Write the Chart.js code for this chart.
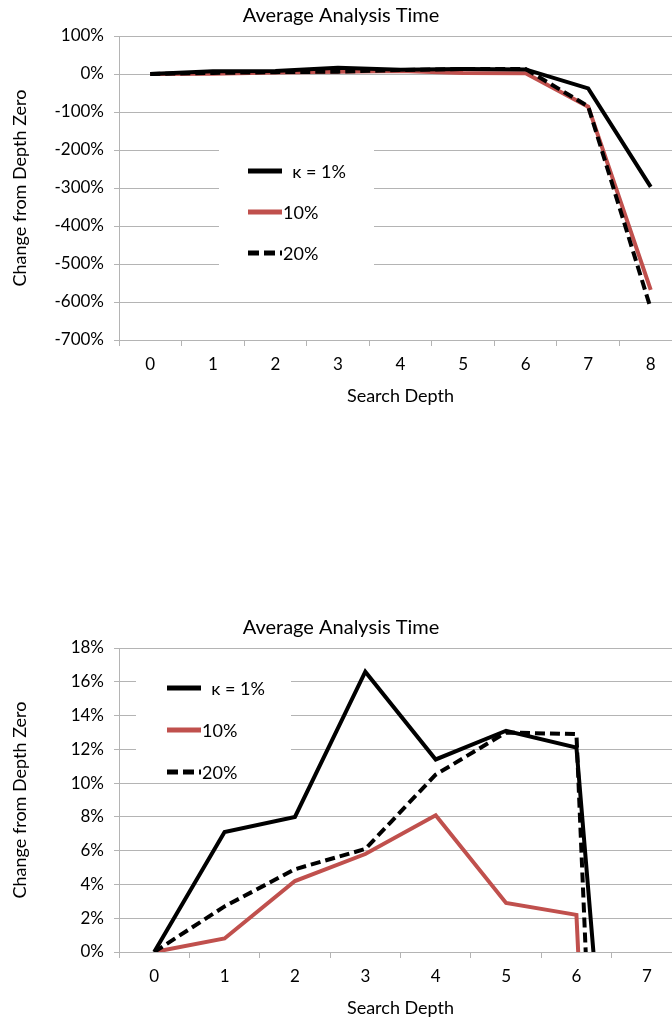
<!DOCTYPE html>
<html lang="en">
<head>
<meta charset="UTF-8" />
<script src="https://cdn.jsdelivr.net/npm/chart.js@4.4.1/dist/chart.umd.min.js"></script>
<style>
  html, body { margin: 0; padding: 0; background: #fff; overflow: hidden; width: 672px; height: 1021px; }
  canvas { position: absolute; left: 0; }
  #top { top: 0; }
  #bottom { top: 612px; }
</style>
</head>
<body>
<canvas id="top" width="682" height="410"></canvas>
<canvas id="bottom" width="682" height="410"></canvas>
<script>
// search depth categories
const depthsTop = ['0', '1', '2', '3', '4', '5', '6', '7', '8']
const depthsBottom = ['0', '1', '2', '3', '4', '5', '6', '7']
// change from depth zero, in %
const kappa1 = [0, 7.1, 8.0, 16.6, 11.4, 13.1, 12.1, -38, -297]
const kappa10 = [0, 0.8, 4.2, 5.8, 8.1, 2.9, 2.2, -86, -568]
const kappa20 = [0, 2.7, 4.9, 6.1, 10.5, 13.0, 12.9, -85, -617]
const seriesLabels = ['  \u03BA = 1%', '10%', '20%']

const FONT = 'Lato'
const GRID = '#b4b4b4'

// legend box drawn inside the plot, over the grid
const insideLegend = {
	id: 'insideLegend',
	beforeDatasetsDraw(chart, args, opts) {
		const ctx = chart.ctx
		const a = chart.chartArea
		const x0 = a.left + opts.x
		const y0 = a.top + opts.y
		ctx.save()
		ctx.fillStyle = '#fff'
		ctx.fillRect(x0, y0, opts.w, opts.h)
		chart.data.datasets.forEach((ds, i) => {
			const y = y0 + opts.first + i * opts.gap
			ctx.beginPath()
			ctx.strokeStyle = ds.borderColor
			ctx.lineWidth = 5
			ctx.setLineDash(ds.borderDash ? [11, 5] : [])
			ctx.moveTo(x0 + opts.lx, y)
			ctx.lineTo(x0 + opts.lx + 34, y)
			ctx.stroke()
			ctx.setLineDash([])
			ctx.fillStyle = '#000'
			ctx.font = '18px ' + FONT
			ctx.textBaseline = 'middle'
			ctx.fillText(ds.label, x0 + opts.lx + 35, y + 1)
		})
		ctx.restore()
	},
}

const makeDatasets = (n) => [
	{ label: seriesLabels[0], data: kappa1.slice(0, n), borderColor: '#000000', borderWidth: 4, order: 1 },
	{ label: seriesLabels[1], data: kappa10.slice(0, n), borderColor: '#C0504D', borderWidth: 4, order: 2 },
	{ label: seriesLabels[2], data: kappa20.slice(0, n), borderColor: '#000000', borderWidth: 4, borderDash: [10, 5], order: 0 },
]

const makeChart = (id, labels, yMin, yMax, step, legendPos) => {
	new Chart(document.getElementById(id), {
		type: 'line',
		data: { labels, datasets: makeDatasets(labels.length) },
		options: {
			responsive: false,
			animation: false,
			layout: { padding: 0 },
			elements: { point: { radius: 0 }, line: { tension: 0, borderCapStyle: 'butt', borderJoinStyle: 'miter' } },
			plugins: {
				legend: { display: false },
				tooltip: { enabled: false },
				title: {
					display: true,
					text: 'Average Analysis Time',
					color: '#000',
					font: { family: FONT, size: 20, weight: 'normal' },
					padding: { top: 4, bottom: 8 },
				},
				insideLegend: legendPos,
			},
			scales: {
				x: {
					offset: true,
					grid: { offset: true, drawOnChartArea: false, tickLength: 6, color: GRID },
					border: { color: GRID },
					ticks: { color: '#000', padding: 8, font: { family: FONT, size: 17 } },
					title: { display: true, text: 'Search Depth', color: '#000', font: { family: FONT, size: 18 }, padding: { top: 4, bottom: 3 } },
					afterFit: (s) => { s.height = 70 },
				},
				y: {
					min: yMin,
					max: yMax,
					grid: { color: GRID, tickLength: 5 },
					border: { color: GRID },
					ticks: { stepSize: step, color: '#000', padding: 10, font: { family: FONT, size: 17 }, callback: (v) => v + '%' },
					title: { display: true, text: 'Change from Depth Zero', color: '#000', font: { family: FONT, size: 18 }, padding: { top: 9, bottom: 0 } },
					afterFit: (s) => { s.width = 119 },
				},
			},
		},
		plugins: [insideLegend],
	})
}

makeChart('top', depthsTop, -700, 100, 100, { x: 100, y: 96, w: 155, h: 158, lx: 29, first: 39, gap: 41 })
makeChart('bottom', depthsBottom, 0, 18, 2, { x: 17, y: 12, w: 155, h: 123, lx: 31, first: 28, gap: 42 })
</script>
</body>
</html>
